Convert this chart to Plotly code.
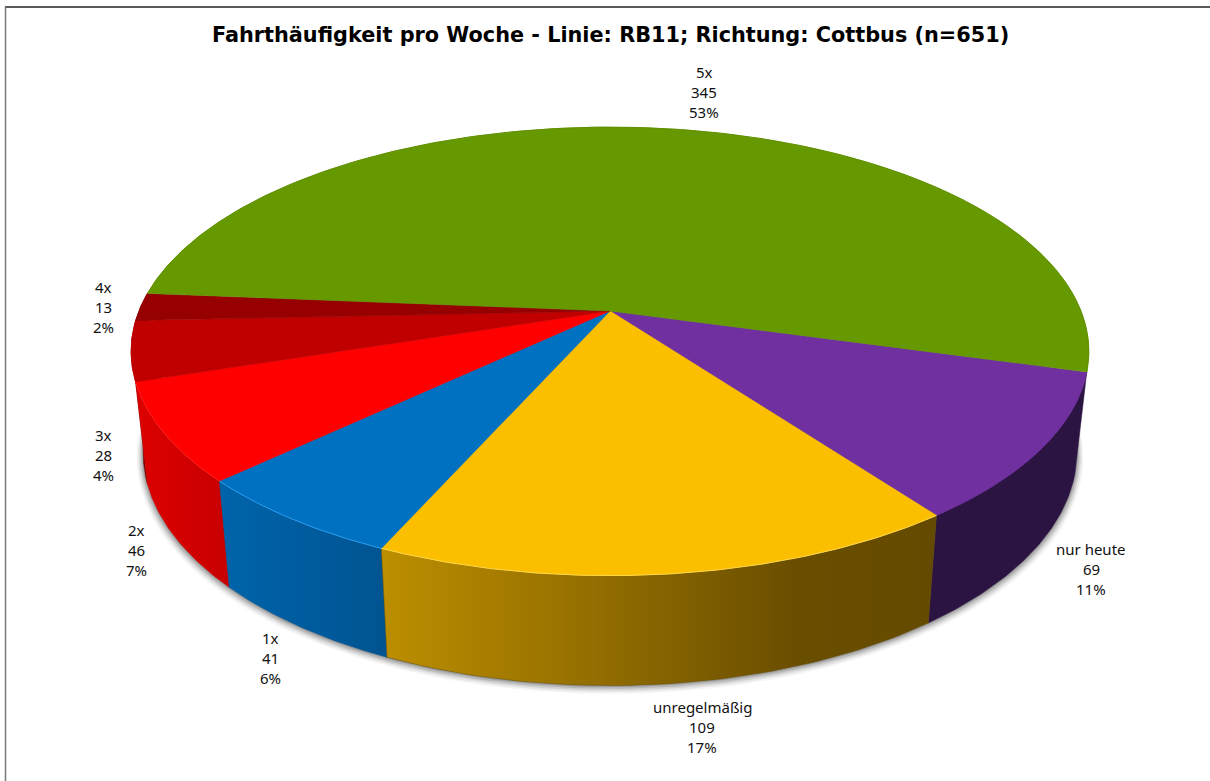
import numpy as np
import plotly.graph_objects as go

# --- data ---
categories = ["nur heute", "unregelmäßig", "1x", "2x", "3x", "4x", "5x"]
counts = [69, 109, 41, 46, 28, 13, 345]
title_text = "Fahrthäufigkeit pro Woche - Linie: RB11; Richtung: Cottbus (n=651)"

# --- styles ---
top_colors = ["#7030A0", "#FCBF00", "#0070C0", "#FF0000", "#C00000", "#960000", "#669900"]
rim_colors = ["#6A2E98", "#FFD84A", "#2C9CF0", "#FF2020", "#C00000", "#960000", "#5F8E00"]
wall_scales = [
    [[0, "#2C1442"], [1, "#2C1442"]],
    [[0, "#BC8E00"], [0.3, "#9C7500"], [0.75, "#6A4E00"], [1, "#644A00"]],
    [[0, "#0064AA"], [0.6, "#005A9C"], [1, "#005490"]],
    [[0, "#DD0000"], [1, "#C80000"]],
    [[0, "#7A0000"], [1, "#7A0000"]],
    [[0, "#600000"], [1, "#600000"]],
    [[0, "#4A6E00"], [1, "#4A6E00"]],
]
wall_draw_order = [0, 5, 4, 3, 2, 1]  # back to front
label_xy = {
    "5x": (704, 92), "nur heute": (1091, 569), "unregelmäßig": (702, 727),
    "1x": (270, 657.5), "2x": (136, 550), "3x": (103, 455), "4x": (103, 307),
}
LINE_GAP = 20

# --- projection of the disc (perspective) ---
CX, CY, A, B, K = 610.0, 311.0, 471.0, 217.0, 0.18
START = 15.5  # degrees, clockwise from 3 o'clock, where the first slice begins


def top_rim(theta_deg):
    t = np.radians(theta_deg)
    X, Y = np.cos(t), np.sin(t)
    d = 1 - K * Y
    return CX + A * X / d, CY + B * Y / d


def bottom_rim(theta_deg):
    x, y = top_rim(theta_deg)
    return CX + 0.975 * (x - CX), 410.4 + 1.04 * (y - CY)


total = sum(counts)
bounds = [START]
for c in counts:
    bounds.append(bounds[-1] + 360.0 * c / total)

fig = go.Figure()


def poly(x, y, color):
    fig.add_trace(go.Scatter(x=list(x), y=list(y), mode="lines", fill="toself",
                             fillcolor=color, line=dict(color=color, width=0.5),
                             hoverinfo="skip", showlegend=False))


# soft shadow under the disc
th = np.linspace(0, 360, 361)
bx, by = bottom_rim(th)
for s, dy, alpha in [(1.014, 5, 0.04), (1.011, 4, 0.06), (1.008, 3, 0.09), (1.005, 2, 0.12), (1.002, 1, 0.15)]:
    c = f"rgba(0,0,0,{alpha})"
    fig.add_trace(go.Scatter(x=CX + s * (bx - CX), y=(by - 451) * s + 451 + dy, mode="lines",
                             fill="toself", fillcolor=c, line=dict(width=0),
                             hoverinfo="skip", showlegend=False))

# side walls: only the part of the rim that faces the viewer
for i in wall_draw_order:
    a0, a1 = bounds[i], min(bounds[i + 1], 185.0)
    t = np.linspace(a0, a1, 60)
    tx, ty = top_rim(t)
    ux, uy = bottom_rim(t)
    xs = np.concatenate([tx, ux[::-1], tx[:1]])
    ys = np.concatenate([ty, uy[::-1], ty[:1]])
    scale = wall_scales[i]
    fig.add_trace(go.Scatter(x=xs, y=ys, mode="lines", fill="toself",
                             fillgradient=dict(type="horizontal", colorscale=scale),
                             line=dict(color=scale[-1][1], width=0.5),
                             hoverinfo="skip", showlegend=False))

# top surface
for i in range(len(counts)):
    a0, a1 = bounds[i], bounds[i + 1]
    t = np.linspace(a0, a1, max(4, int((a1 - a0) * 2)))
    tx, ty = top_rim(t)
    poly(np.concatenate([[CX], tx, [CX]]), np.concatenate([[CY], ty, [CY]]), top_colors[i])

# light rim along the top edge
for i in range(len(counts)):
    a0, a1 = bounds[i], bounds[i + 1]
    t = np.linspace(a0, a1, max(4, int((a1 - a0) * 2)))
    tx, ty = top_rim(t)
    fig.add_trace(go.Scatter(x=tx, y=ty, mode="lines", line=dict(color=rim_colors[i], width=1),
                             hoverinfo="skip", showlegend=False))

# labels
label_font = "Noto Sans"
title_font = "DejaVu Sans"
annotations = []
for name, value in zip(categories, counts):
    pct = round(100 * value / total)
    lx, ly = label_xy[name]
    for k, line in enumerate([name, str(value), f"{pct}%"]):
        annotations.append(dict(x=lx, y=ly + (k - 1) * LINE_GAP, xref="x", yref="y", showarrow=False,
                                text=line, font=dict(family=label_font, size=15, color="#111111")))

annotations.append(dict(x=610, y=35, xref="x", yref="y", showarrow=False, text=f"<b>{title_text}</b>",
                        font=dict(family=title_font, size=20.8, color="#000000")))

fig.update_layout(
    width=1210, height=781, autosize=False,
    margin=dict(l=0, r=0, t=0, b=0),
    paper_bgcolor="white", plot_bgcolor="white",
    xaxis=dict(range=[0, 1210], visible=False, fixedrange=True),
    yaxis=dict(range=[781, 0], visible=False, fixedrange=True),
    annotations=annotations,
    shapes=[
        dict(type="line", xref="x", yref="y", x0=5, x1=1210, y0=7, y1=7, line=dict(color="#222222", width=1.5)),
        dict(type="line", xref="x", yref="y", x0=5.5, x1=5.5, y0=7, y1=781, line=dict(color="#777777", width=1.5)),
    ],
)

fig.write_html("out.html", config={"displayModeBar": False}, post_script="document.body.style.margin='0';")
